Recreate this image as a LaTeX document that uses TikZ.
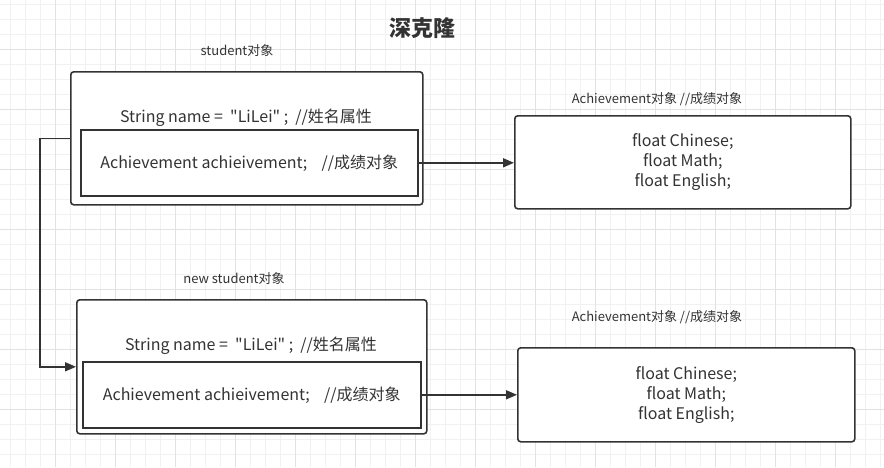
\documentclass[tikz,border=0pt]{standalone}
\usepackage{fontspec}
\setmainfont{Noto Sans CJK SC}[Ligatures=TeXOff]
\usetikzlibrary{arrows.meta}
\definecolor{ink}{HTML}{333333}
\definecolor{gridminor}{HTML}{F1F1F1}
\definecolor{gridmajor}{HTML}{E2E2E2}
\tikzset{
  objbox/.style={draw=ink, line width=1.6pt, rounded corners=3pt, fill=white, inner sep=0pt, anchor=north west},
  fieldbox/.style={draw=ink, line width=1.6pt, fill=white, inner sep=0pt, anchor=north west, code},
  caption/.style={font=\fontsize{13}{15}\selectfont, text=ink},
  code/.style={font=\fontsize{16}{20}\selectfont, text=ink, align=center},
  link/.style={draw=ink, line width=1.6pt, -{Triangle[length=11pt,width=9pt]}}
}
\begin{document}
\begin{tikzpicture}[x=1pt,y=-1pt]
		\useasboundingbox (0,0) rectangle (884,467);
		% grid
		\fill[white] (0,0) rectangle (884,467);
		\foreach \x in {10,25,...,880} \draw[gridminor, line width=0.8pt] (\x,0) -- (\x,467);
		\foreach \y in {4,19,...,464} \draw[gridminor, line width=0.8pt] (0,\y) -- (884,\y);
		\foreach \x in {55,115,...,835} \draw[gridmajor, line width=0.8pt] (\x,0) -- (\x,467);
		\foreach \y in {49,109,...,409} \draw[gridmajor, line width=0.8pt] (0,\y) -- (884,\y);
		% title
		\node [font=\fontsize{22}{24}\selectfont\bfseries, text=ink] (title) at (422,28) {深克隆};
		% student
		\node [caption] (stulabel) at (237,51) {student对象};
		\node [objbox, minimum width=352pt, minimum height=133pt] (stu) at (70,71) {};
		\node [code] (stuname) at (246,118) {String name~=~~"LiLei"~;~~//姓名属性};
		\node [fieldbox, minimum width=337pt, minimum height=66pt] (stuach) at (80,129) {Achievement achieivement;\ \ \ \ //成绩对象};
		\node [caption] (achlabel) at (657,99) {Achievement对象 //成绩对象};
		\node [objbox, code, minimum width=336pt, minimum height=93pt] (ach) at (514,115) {float Chinese;\\float Math;\\float English;};
		\draw [link] (stuach.east) -- (stuach.east -| ach.west);
		% new student
		\node [caption] (newlabel) at (234,279) {new student对象};
		\node [objbox, minimum width=350pt, minimum height=134pt] (newstu) at (76,299) {};
		\node [code] (newname) at (251,346) {String name~=~~"LiLei"~;~~//姓名属性};
		\node [fieldbox, minimum width=338pt, minimum height=66pt] (newach) at (82,361) {Achievement achieivement;\ \ \ \ //成绩对象};
		\node [caption] (newachlabel) at (657,317) {Achievement对象 //成绩对象};
		\node [objbox, code, minimum width=337pt, minimum height=94pt] (ach2) at (517,347) {float Chinese;\\float Math;\\float English;};
		\draw [link] (newach.east) -- (newach.east -| ach2.west);
		% clone link
		\draw [link] (stu.west) -- ++(-30,0) |- (newstu.west);
\end{tikzpicture}
\end{document}
